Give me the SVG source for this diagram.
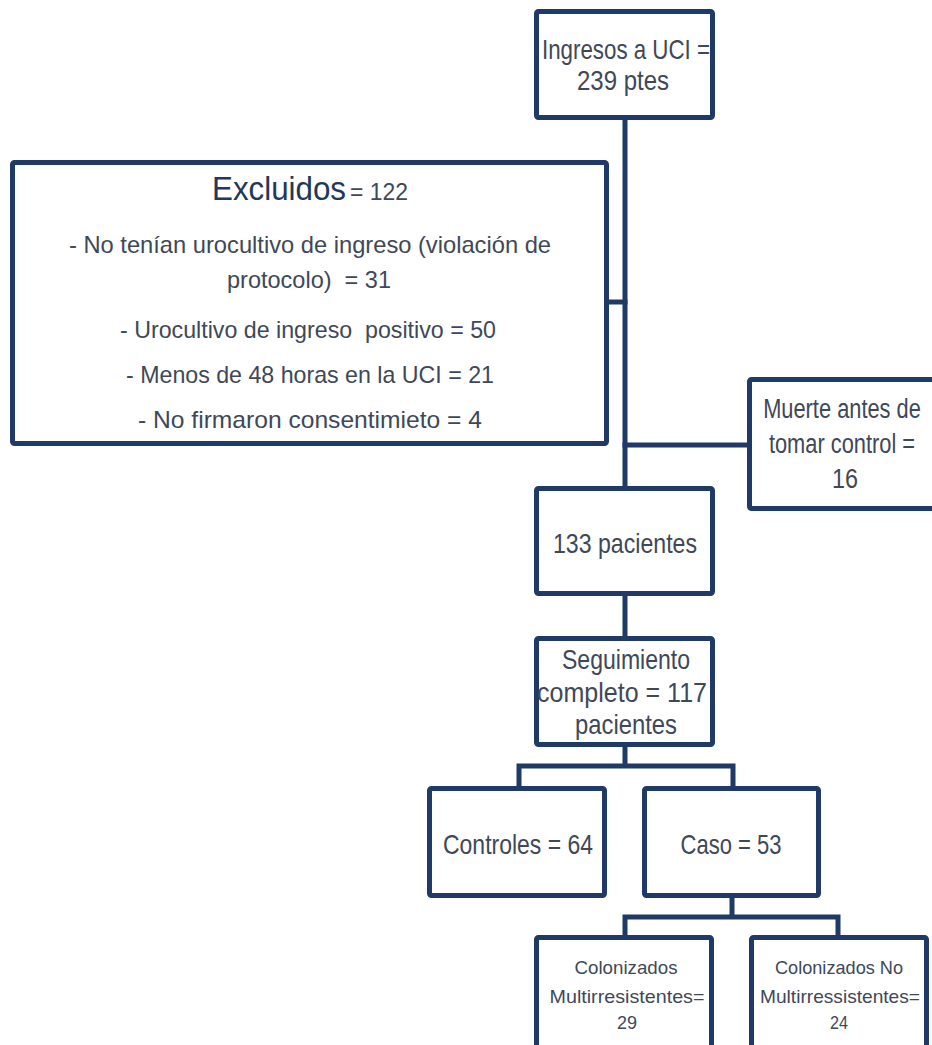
<svg xmlns="http://www.w3.org/2000/svg" width="932" height="1045" viewBox="0 0 932 1045">
<style>
.box{fill:#ffffff;stroke:#1f3a66;stroke-width:5;stroke-linejoin:round}
.ln{fill:none;stroke:#1f3a66;stroke-width:5;stroke-linecap:square}
text{font-family:"Liberation Sans",Arial,sans-serif;fill:#3e4858;text-anchor:middle;white-space:pre}
.m{font-size:28px}
.s{font-size:24px}
.xs{font-size:19px}
.t{font-size:33px;fill:#22375c}
</style>
<rect width="932" height="1045" fill="#ffffff"/>
<g id="connectors">
<path class="ln" d="M625,120 V488"/>
<path class="ln" d="M609,302 H625"/>
<path class="ln" d="M625,445 H748"/>
<path class="ln" d="M625,595 V638"/>
<path class="ln" d="M625,746 V766 M519,766 H733 M519,766 V788 M733,766 V788"/>
<path class="ln" d="M732,896 V917 M625,917 H838 M625,917 V937 M838,917 V937"/>
</g>
<g id="ingresos">
<rect class="box" x="536.5" y="11.5" width="176" height="106" rx="2"/>
<text class="m" x="626" y="59" textLength="168" lengthAdjust="spacingAndGlyphs">Ingresos a UCI =</text>
<text class="m" x="623" y="90" textLength="92" lengthAdjust="spacingAndGlyphs">239 ptes</text>
</g>
<g id="excluidos">
<rect class="box" x="12.5" y="162.5" width="594" height="281" rx="2"/>
<text x="310" y="200"><tspan class="t" textLength="134" lengthAdjust="spacingAndGlyphs">Excluidos</tspan><tspan class="s" dx="4" textLength="58" lengthAdjust="spacingAndGlyphs">= 122</tspan></text>
<text class="s" x="310" y="253" xml:space="preserve" textLength="482" lengthAdjust="spacingAndGlyphs">- No tenían urocultivo de ingreso (violación de</text>
<text class="s" x="309" y="288" xml:space="preserve" textLength="164" lengthAdjust="spacingAndGlyphs">protocolo)  = 31</text>
<text class="s" x="308" y="338" xml:space="preserve" textLength="376" lengthAdjust="spacingAndGlyphs">- Urocultivo de ingreso  positivo = 50</text>
<text class="s" x="310" y="383" textLength="368" lengthAdjust="spacingAndGlyphs">- Menos de 48 horas en la UCI = 21</text>
<text class="s" x="310" y="428" textLength="344" lengthAdjust="spacingAndGlyphs">- No firmaron consentimieto = 4</text>
</g>
<g id="muerte">
<rect class="box" x="749.5" y="379.5" width="200" height="129" rx="2"/>
<text class="m" transform="translate(842,418) scale(0.78,1)" x="0" y="0">Muerte antes de</text>
<text class="m" transform="translate(842,453) scale(0.78,1)" x="0" y="0">tomar control =</text>
<text class="m" x="845" y="488" textLength="26" lengthAdjust="spacingAndGlyphs">16</text>
</g>
<g id="pacientes133">
<rect class="box" x="536.5" y="488.5" width="176" height="105" rx="2"/>
<text class="m" x="625" y="553" textLength="144" lengthAdjust="spacingAndGlyphs">133 pacientes</text>
</g>
<g id="seguimiento">
<rect class="box" x="536.5" y="638.5" width="176" height="106" rx="2"/>
<text class="m" x="626" y="669" textLength="128" lengthAdjust="spacingAndGlyphs">Seguimiento</text>
<text class="m" x="622" y="702" textLength="170" lengthAdjust="spacingAndGlyphs">completo = 117</text>
<text class="m" x="626" y="734" textLength="102" lengthAdjust="spacingAndGlyphs">pacientes</text>
</g>
<g id="controles">
<rect class="box" x="429.5" y="788.5" width="175" height="107" rx="2"/>
<text class="m" x="518" y="854" textLength="150" lengthAdjust="spacingAndGlyphs">Controles = 64</text>
</g>
<g id="caso">
<rect class="box" x="644.5" y="788.5" width="174" height="107" rx="2"/>
<text class="m" x="731" y="854" textLength="101" lengthAdjust="spacingAndGlyphs">Caso = 53</text>
</g>
<g id="multirresistentes">
<rect class="box" x="536.5" y="937.5" width="175" height="130" rx="2"/>
<text class="xs" x="626" y="974" textLength="103" lengthAdjust="spacingAndGlyphs">Colonizados</text>
<text class="xs" x="627" y="1003" textLength="155" lengthAdjust="spacingAndGlyphs">Multirresistentes=</text>
<text class="xs" x="627" y="1029" textLength="20" lengthAdjust="spacingAndGlyphs">29</text>
</g>
<g id="no-multirresistentes">
<rect class="box" x="751.5" y="937.5" width="175" height="130" rx="2"/>
<text class="xs" x="839" y="974" textLength="128" lengthAdjust="spacingAndGlyphs">Colonizados No</text>
<text class="xs" x="840" y="1003" textLength="160" lengthAdjust="spacingAndGlyphs">Multirressistentes=</text>
<text class="xs" x="839" y="1029" textLength="18" lengthAdjust="spacingAndGlyphs">24</text>
</g>
</svg>
